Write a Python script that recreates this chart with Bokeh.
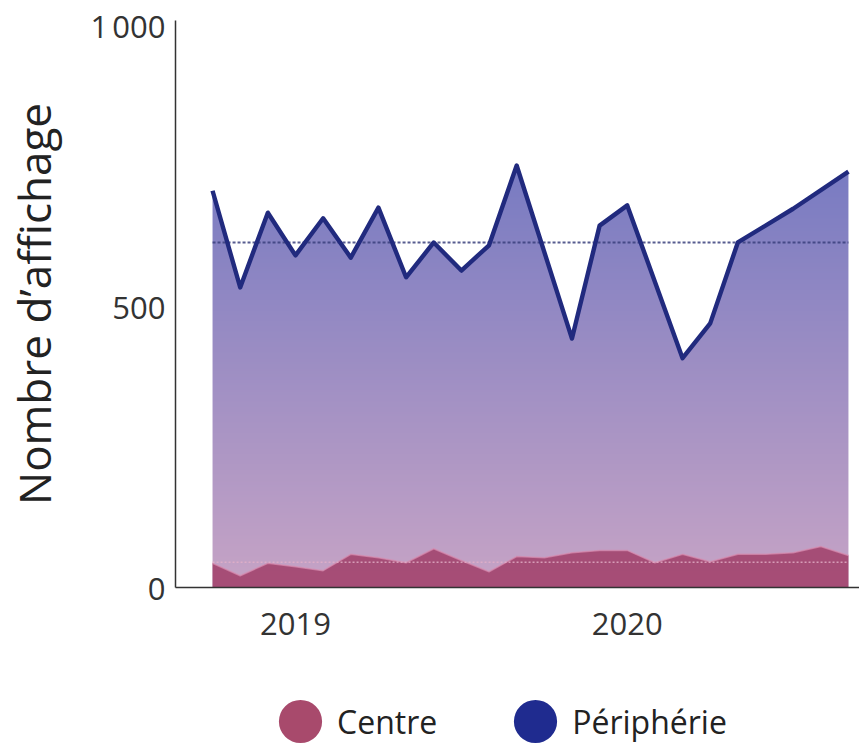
import numpy as np
from bokeh.plotting import figure
from bokeh.layouts import column
from bokeh.models import Range1d, FixedTicker, Legend, LegendItem
from bokeh.embed import file_html
from bokeh.resources import INLINE

# ---------------- data ----------------
months = ["2018-10", "2018-11", "2018-12", "2019-01", "2019-02", "2019-03",
          "2019-04", "2019-05", "2019-06", "2019-07", "2019-08", "2019-09",
          "2019-10", "2019-11", "2019-12", "2020-01", "2020-02", "2020-03",
          "2020-04", "2020-05", "2020-06", "2020-07", "2020-08", "2020-09"]

peri_months = ["2018-10", "2018-11", "2018-12", "2019-01", "2019-02", "2019-03",
               "2019-04", "2019-05", "2019-06", "2019-07", "2019-08", "2019-09",
               "2019-11", "2019-12", "2020-01", "2020-03", "2020-04", "2020-05",
               "2020-07", "2020-09"]
peri_values = [706, 534, 667, 591, 657, 587, 676, 552, 614, 564, 609, 751,
               443, 644, 680, 408, 470, 614, 674, 740]

centre_values = [43, 21, 43, 37, 30, 59, 53, 44, 69, 48, 28, 55,
                 53, 62, 66, 66, 44, 59, 46, 59, 59, 62, 73, 57]

peri_average = 614
centre_average = 45

year_tick_months = ["2019-01", "2020-01"]
year_labels = ["2019", "2020"]

y_ticks = [0, 500, 1000]
y_tick_labels = ["0", "500", "1\u202f000"]

series_names = ["Centre", "Périphérie"]
y_title = "Nombre d’affichage"

# ---------------- styling ----------------
FONT = "Open Sans"
PERI_LINE = "#212a7e"
PERI_LEGEND = "#1f2b8f"
CENTRE_FILL = "#a3456f"
CENTRE_EDGE = "#d98db0"
CENTRE_LEGEND = "#a84a6c"
GRAD_BOTTOM = (199, 164, 198)
GRAD_TOP = (120, 123, 194)
AXIS_COLOR = "#333333"
Y_TOP = 1009
MAIN_H = 656
LEG_H = 746 - MAIN_H

# ---------------- derived positions ----------------
month_idx = {m: i for i, m in enumerate(months)}
cx = np.arange(len(months))
px = np.array([month_idx[m] for m in peri_months])
pv = np.array(peri_values, dtype=float)

p = figure(width=859, height=MAIN_H, output_backend="svg", toolbar_location=None,
           x_range=Range1d(-1.34, 23.4), y_range=Range1d(0, Y_TOP),
           min_border_left=175, min_border_right=0, min_border_top=20,
           min_border_bottom=69)
p.outline_line_color = None
p.grid.visible = False
p.background_fill_color = "white"
p.border_fill_color = "white"

# gradient fill under periphery line: gradient image + white mask above the line
ny = 300
t = np.linspace(0.0, 1.0, ny)[:, None]
cols = np.array(GRAD_BOTTOM)[None, :] * (1 - t) + np.array(GRAD_TOP)[None, :] * t
img = np.empty((ny, 2), dtype=np.uint32)
view = img.view(dtype=np.uint8).reshape((ny, 2, 4))
for k in range(3):
    view[:, :, k] = cols[:, k][:, None].astype(np.uint8)
view[:, :, 3] = 255
p.image_rgba(image=[img], x=px.min(), y=0, dw=px.max() - px.min(), dh=pv.max())
mask_x = np.concatenate([px, [px.max(), px.min()]])
mask_y = np.concatenate([pv, [Y_TOP, Y_TOP]])
p.patch(x=mask_x, y=mask_y, fill_color="white", line_color="white", line_width=2.5)

# average line periphery
p.line(x=[px.min(), px.max()], y=[peri_average, peri_average],
       line_color="#3a3f7c", line_width=2, line_dash="3 2", line_alpha=0.85)

# centre area
p.varea(x=cx, y1=0, y2=centre_values, fill_color=CENTRE_FILL, fill_alpha=0.92)
p.line(x=cx, y=centre_values, line_color=CENTRE_EDGE, line_width=1.5, line_alpha=0.7)
p.line(x=[cx.min(), cx.max()], y=[centre_average, centre_average],
       line_color="#e3b0c8", line_width=1.5, line_dash="2 2", line_alpha=0.8)

# periphery line
p.line(x=px, y=pv, line_color=PERI_LINE, line_width=4.4, line_join="round")

# axes
p.yaxis.ticker = FixedTicker(ticks=y_ticks)
p.yaxis.major_label_overrides = {v: s for v, s in zip(y_ticks, y_tick_labels)}
p.xaxis.ticker = FixedTicker(ticks=[month_idx[m] for m in year_tick_months])
p.xaxis.major_label_overrides = {month_idx[m]: s for m, s in zip(year_tick_months, year_labels)}
for ax in (p.xaxis, p.yaxis):
    ax.axis_line_color = AXIS_COLOR
    ax.axis_line_width = 1.5
    ax.major_tick_out = 0
    ax.major_tick_in = 0
    ax.minor_tick_out = 0
    ax.minor_tick_in = 0
    ax.major_label_text_font = FONT
    ax.major_label_text_color = AXIS_COLOR
p.yaxis.major_label_text_font_size = "31px"
p.yaxis.major_label_standoff = 10
p.xaxis.major_label_text_font_size = "31px"
p.xaxis.major_label_standoff = 25
p.yaxis.axis_label = y_title
p.yaxis.axis_label_text_font = FONT
p.yaxis.axis_label_text_font_size = "44px"
p.yaxis.axis_label_text_font_style = "normal"
p.yaxis.axis_label_text_color = "#222222"
p.yaxis.axis_label_standoff = 24

# legend (separate strip under the chart; its frame is aligned with the chart frame)
leg = figure(width=859, height=LEG_H, output_backend="svg", toolbar_location=None,
             x_axis_location=None, y_axis_location=None, min_border=0,
             x_range=Range1d(0, 1), y_range=Range1d(0, 1))
leg.outline_line_color = None
leg.grid.visible = False
leg.background_fill_color = "white"
leg.border_fill_color = "white"
r_c = leg.ellipse(x=cx, y=centre_values, width=0.001, height=0.001,
                  width_units="screen", height_units="screen",
                  fill_color=CENTRE_LEGEND, line_color=None)
r_p = leg.ellipse(x=px, y=pv, width=0.001, height=0.001,
                  width_units="screen", height_units="screen",
                  fill_color=PERI_LEGEND, line_color=None)
legend = Legend(items=[LegendItem(label=series_names[0], renderers=[r_c]),
                       LegendItem(label=series_names[1], renderers=[r_p])],
                orientation="horizontal", location=(98, -2),
                glyph_width=54, glyph_height=54, label_standoff=10, spacing=71,
                padding=0, margin=0, border_line_color=None, background_fill_alpha=0,
                label_text_font=FONT, label_text_font_size="32px",
                label_text_color="#222222")
leg.add_layout(legend)

layout = column(p, leg, spacing=0)
open("out.html", "w").write(file_html(layout, INLINE))
